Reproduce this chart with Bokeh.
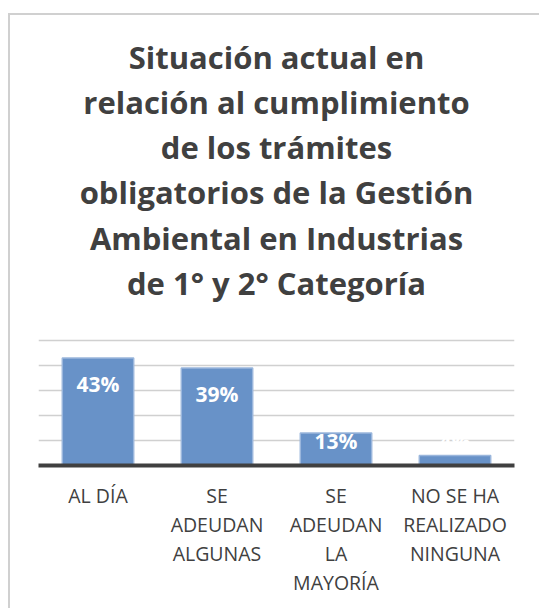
from bokeh.plotting import figure
from bokeh.models import Range1d, LinearAxis, FixedTicker, ColumnDataSource, InlineStyleSheet
from bokeh.core.properties import value
from bokeh.embed import file_html
from bokeh.resources import INLINE
import numpy as np

# ---- data ----
categories = ["AL DÍA", "SE ADEUDAN ALGUNAS", "SE ADEUDAN LA MAYORÍA", "NO SE HA REALIZADO NINGUNA"]
values = [43, 39, 13, 4]
value_labels = ["43%", "39%", "13%", "4%"]
label_lines = [
    ["AL DÍA"],
    ["SE", "ADEUDAN", "ALGUNAS"],
    ["SE", "ADEUDAN", "LA", "MAYORÍA"],
    ["NO SE HA", "REALIZADO", "NINGUNA"],
]
title_lines = [
    "Situación actual en",
    "relación al cumplimiento",
    "de los trámites",
    "obligatorios de la Gestión",
    "Ambiental en Industrias",
    "de 1° y 2° Categoría",
]
grid_ticks = [10, 20, 30, 40, 50]

FONT = "Open Sans"
TXT = "#404040"

xpos = np.arange(len(categories)) + 0.5

p = figure(
    width=539, height=608,
    x_range=Range1d(0, len(categories)),
    y_range=Range1d(0, 178),
    x_axis_location=None, y_axis_location=None,
    output_backend="svg", toolbar_location=None,
    min_border_left=38, min_border_right=25, min_border_top=20, min_border_bottom=143,
)
p.outline_line_color = None
p.background_fill_color = "white"
p.border_fill_color = "white"
p.xgrid.grid_line_color = None
p.ygrid.ticker = FixedTicker(ticks=grid_ticks)
p.ygrid.grid_line_color = "#d0d0d0"
p.ygrid.grid_line_width = 1.5

# chart border: left and top edges (the rest runs off the page)
p.stylesheets = [InlineStyleSheet(css="""
:host { position: relative; }
:host::after { content: ""; position: absolute; left: 8px; top: 13px; right: 0; bottom: 0;
  border-left: 2px solid #d0d0d0; border-top: 2px solid #d0d0d0;
  pointer-events: none; z-index: 10; }
""")]

# bars
src = ColumnDataSource(dict(x=xpos, val=values, lab=value_labels,
                            ly=np.maximum(np.array(values) - 10.5, 10)))
p.vbar(x="x", top="val", width=0.6, source=src,
       fill_color="#6892c8", line_color="#9ab6dc", line_width=1.5)
p.text(x="x", y="ly", text="lab", source=src, text_align="center", text_baseline="middle",
       text_color="white", text_font=value(FONT), text_font_style="bold", text_font_size="21px")

# title lines
n = len(title_lines)
p.text(x=[len(categories) / 2] * n, y=[163.6 - 18.1 * i for i in range(n)], text=title_lines,
       text_align="center", text_baseline="alphabetic", text_color=TXT,
       text_font=value(FONT), text_font_style="bold", text_font_size="31px")

# stacked category axes, one per label line
max_lines = max(len(l) for l in label_lines)
for i in range(max_lines):
    ticks = [float(x) for x, ll in zip(xpos, label_lines) if i < len(ll)]
    ax = LinearAxis(ticker=FixedTicker(ticks=ticks))
    ax.major_label_overrides = {float(x): ll[i] for x, ll in zip(xpos, label_lines) if i < len(ll)}
    ax.major_tick_line_color = None
    ax.minor_tick_line_color = None
    ax.major_tick_out = 0
    ax.major_tick_in = 0
    ax.minor_tick_out = 0
    ax.major_label_text_font = FONT
    ax.major_label_text_font_size = "19.5px"
    ax.major_label_text_color = TXT
    ax.major_label_standoff = 16 if i == 0 else -1
    if i == 0:
        ax.axis_line_color = "#404040"
        ax.axis_line_width = 4
    else:
        ax.axis_line_color = None
    p.add_layout(ax, "below")

open("out.html", "w").write(file_html(p, INLINE))
